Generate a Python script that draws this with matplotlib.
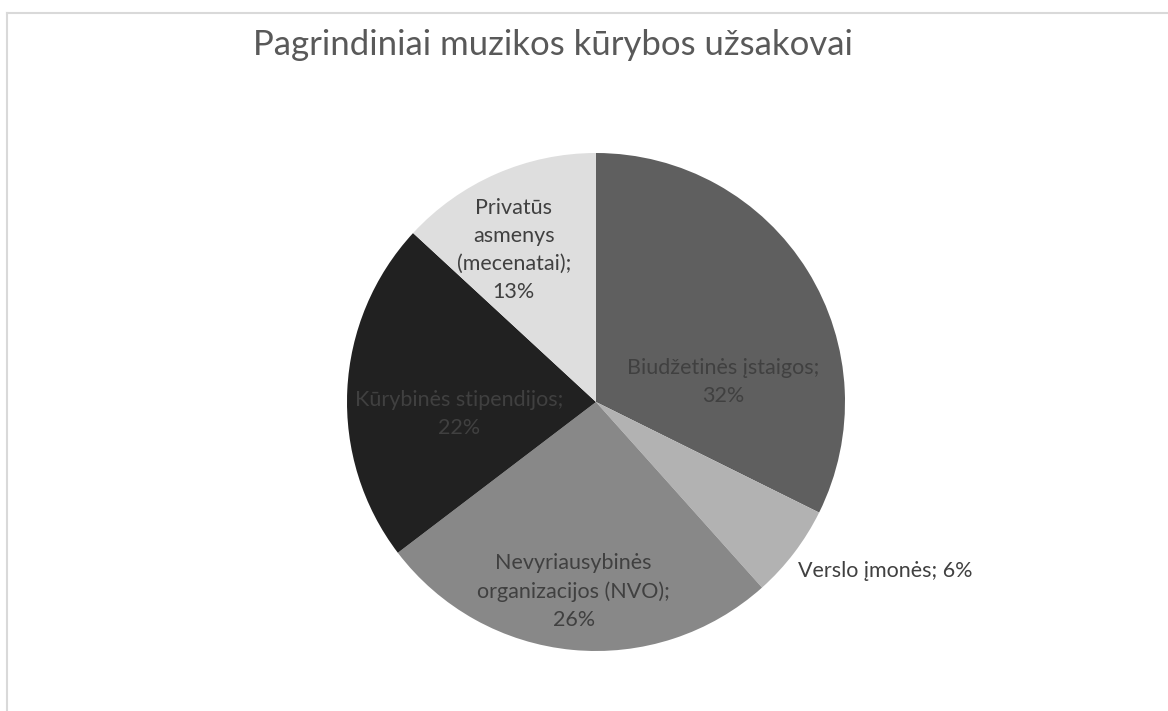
import numpy as np
import matplotlib
matplotlib.use("Agg")
from matplotlib import pyplot as plt
from matplotlib.lines import Line2D

# slices, clockwise from the top
labels = ["Biudžetinės įstaigos;\n32%",
          "Verslo įmonės; 6%",
          "Nevyriausybinės\norganizacijos (NVO);\n26%",
          "Kūrybinės stipendijos;\n22%",
          "Privatūs\nasmenys\n(mecenatai);\n13%"]
values = [32, 6, 26, 22, 13]
colors = ["#5f5f5f", "#b2b2b2", "#888888", "#212121", "#dedede"]
title = "Pagrindiniai muzikos kūrybos užsakovai"

# label placement in units of pie radius
label_xy = [(0.51, 0.08), (0.81, -0.68), (-0.09, -0.76), (-0.55, -0.05), (-0.33, 0.61)]
label_ha = ["center", "left", "center", "center", "center"]

plt.rcParams['font.family'] = ['Lato', 'DejaVu Sans']

W, H = 1168, 711
fig = plt.figure(figsize=(W / 100, H / 100), dpi=100)

cx, cy, r = 596, 402, 249
ax = fig.add_axes([(cx - r) / W, (H - cy - r) / H, 2 * r / W, 2 * r / H])
ax.pie(values, colors=colors, startangle=90, counterclock=False, radius=1,
       wedgeprops=dict(linewidth=0))
ax.set_xlim(-1, 1)
ax.set_ylim(-1, 1)
ax.set_aspect('equal')
ax.axis('off')

for lab, (x, y), ha in zip(labels, label_xy, label_ha):
    ax.text(x, y, lab, ha=ha, va='center', fontsize=15.5, color='#404040',
            linespacing=1.5, multialignment='center')

fig.text(553 / W, 1 - 45 / H, title, ha='center', va='center', fontsize=25, color='#595959')

# chart border (cropped)
fig.add_artist(Line2D([7 / W, 1], [1 - 13 / H, 1 - 13 / H], color='#d9d9d9', lw=1.5))
fig.add_artist(Line2D([7 / W, 7 / W], [0, 1 - 13 / H], color='#d9d9d9', lw=1.5))

fig.savefig("out.png", dpi=100)
